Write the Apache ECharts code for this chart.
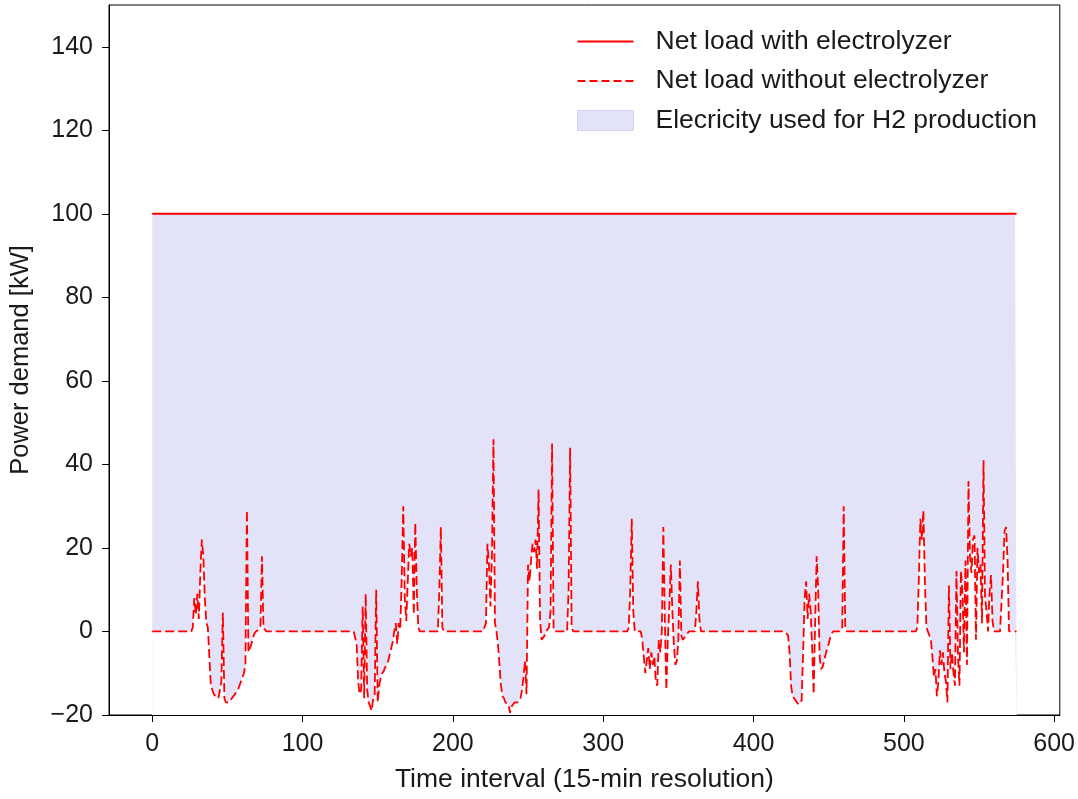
<!DOCTYPE html>
<html>
<head>
<meta charset="utf-8">
<script src="https://cdn.jsdelivr.net/npm/echarts@6/dist/echarts.min.js"></script>
<style>
html,body{margin:0;padding:0;background:#fff;}
#chart{width:1078px;height:799px;}
</style>
</head>
<body>
<div id="chart"></div>
<script>
// Net load without electrolyzer [kW], one value per 15-min interval (t = 0..575)
const netLoadWithout = [
  0,0,0,0,0,0,0,0,0,0, 0,0,0,0,0,0,0,0,0,0, 0,0,0,0,0,0,0,
  1,8,4,9,3,14,22,18,8,2,1,-6,-13,-14,-15,-15.5,-15.5,-16,-16,-12,4.5,-16,-17,-17,-17,-16.5,-16,-15.5,-15,-14.5,-14,-13,-12,-11,-10,-8,29,-5,-4,-3,-1.5,-0.5,0,0,0.5,1,18,1,1,
  0,0,0,0,0,0,0,0,0,0, 0,0,0,0,0,0,0,0,0,0, 0,0,0,0,0,0,0,0,0,0, 0,0,0,0,0,0,0,0,0,0, 0,0,0,0,0,0,0,0,0,0, 0,0,0,0,0,0,0,0,0,0,
  -3,-12,-15,-14,6,-16,9,-14,-17,-18,-19,-16,-15,10,-17,-13,-11,-10,-9.5,-8.5,-8,-7,-5.5,-4,-2.5,0,2,-3,2,0.5,13,30,8,2.5,12,21,18,20,4,26,10,1,
  0,0,0,0,0,0,0,0,0,0,0,0,0, 10,25,1,
  0,0,0,0,0,0,0,0,0,0, 0,0,0,0,0,0,0,0,0,0, 0,0,0,0,0,0,0,0,
  2,21,16,6,18,46,2,0,-3,-8,-13,-15.5,-16,-17,-17,-17.5,-19.5,-18,-17.5,-17,-17,-17,-16.5,-16,-14,-11,-7,-15,16,12,17,21,19,22,15,34,3,-2,-1.5,-1,0,0.5,1,5,45,0.5,
  0,0,0,0,0,0,0,0,0, 10,44,1,
  0,0,0,0,0,0,0,0,0,0, 0,0,0,0,0,0,0,0,0,0, 0,0,0,0,0,0,0,0,0,0, 0,0,0,0,0,0,0,
  1,10,27,5,0,0,0,0,0,-2,-6,-10,-7,-4,-9,-5,-8,-6,-12,-13,-2,-5,0,25,3,-14,-2,6,16,5,-3,-8,-7,-2,17,-1,-2,-1.5,-1,-0.5,0,0,0,0,0,5,12,3,0,
  0,0,0,0,0,0,0,0,0,0, 0,0,0,0,0,0,0,0,0,0, 0,0,0,0,0,0,0,0,0,0, 0,0,0,0,0,0,0,0,0,0, 0,0,0,0,0,0,0,0,0,0, 0,0,0,0,0,0,0,
  -1,-5,-13,-15.5,-16,-16.5,-17,-17.5,-17.5,-16.5,-5,8,12,3,9,5,-4,-15,2,18,10,-6,-9,-8.5,-7,-5.5,-4,-3,-1.5,-0.5,0,0,0,0,0,0,0.5,30,1,0,
  0,0,0,0,0,0,0,0,0,0, 0,0,0,0,0,0,0,0,0,0, 0,0,0,0,0,0,0,0,0,0, 0,0,0,0,0,0,0,0,0,0, 0,0,0,0,0,0,
  1,13,27,22,29,12,1,0,0,-2,-6,-11,-9,-15.5,-12,-4.5,-8,-5,-10,-12,-17,11,-9,-5,-10,-13,14.5,-6,-13,14.5,9,-5,17,-8,36,18,14,22,23,-2,20,14,16,2,41,8,5,0,9,13.5,2.5,0,0,0,0,0,0,14,24,25,17,0,0,0,0,0,0
];
// Net load with electrolyzer [kW] (flat level)
const netLoadWithLevel = 100;

const xTicks = [0, 100, 200, 300, 400, 500, 600];
const yTicks = [-20, 0, 20, 40, 60, 80, 100, 120, 140];

const seriesNames = [
  'Net load with electrolyzer',
  'Net load without electrolyzer',
  'Elecricity used for H2 production'
];

if (netLoadWithout.length !== 576) throw new Error('length ' + netLoadWithout.length);

const withData = netLoadWithout.map((v, i) => [i, netLoadWithLevel]);
const withoutData = netLoadWithout.map((v, i) => [i, v]);

const FONT = 'Liberation Sans, Arial, sans-serif';
const TXT = '#1a1a1a';
const FILL = '#e2e2f8';
const RED = '#ff0000';
const fmt = v => (v < 0 ? '\u2212' + Math.abs(v) : String(v));

const solidIcon = 'path://M0,0L56,0L56,0.01Z M0,9L56,9L56,11L0,11Z M0,20L56,20L56,20.01Z';
const dashIcon = 'path://M0,0L56,0L56,0.01Z M0,9L8,9L8,11L0,11Z M12,9L20,9L20,11L12,11Z M24,9L32,9L32,11L24,11Z M36,9L44,9L44,11L36,11Z M48,9L56,9L56,11L48,11Z M0,20L56,20L56,20.01Z';

const chart = echarts.init(document.getElementById('chart'), null, {renderer: 'canvas'});
chart.setOption({
  animation: false,
  backgroundColor: '#ffffff',
  grid: {left: 106, right: 13, top: 5, bottom: 84, containLabel: false,
         show: true, backgroundColor: 'transparent', borderColor: '#000', borderWidth: 1},
  legend: {
    orient: 'vertical',
    left: 577,
    top: 28,
    itemWidth: 56,
    itemHeight: 20,
    itemGap: 12.5,
    padding: 0,
    data: [
      {name: seriesNames[0], icon: solidIcon, itemStyle: {color: RED}},
      {name: seriesNames[1], icon: dashIcon, itemStyle: {color: RED}},
      {name: seriesNames[2], icon: 'rect', itemStyle: {color: FILL, borderColor: '#d2d2f4', borderWidth: 1}}
    ],
    textStyle: {fontFamily: FONT, fontSize: 26.5, color: TXT, padding: [0, 0, 0, 17]}
  },
  xAxis: {
    type: 'value',
    min: -28.75,
    max: 603.75,
    z: 10,
    name: 'Time interval (15-min resolution)',
    nameLocation: 'middle',
    nameGap: 51,
    nameTextStyle: {fontFamily: FONT, fontSize: 26.5, color: TXT},
    splitLine: {show: false},
    axisLine: {show: true, onZero: false, lineStyle: {color: '#000', width: 1}},
    axisTick: {show: true, length: 7, lineStyle: {color: '#000'}, customValues: xTicks},
    axisLabel: {fontFamily: FONT, fontSize: 25, color: TXT, margin: 17, customValues: xTicks, formatter: fmt}
  },
  yAxis: {
    type: 'value',
    min: -20,
    max: 150,
    z: 10,
    name: 'Power demand [kW]',
    nameLocation: 'middle',
    nameGap: 75,
    nameTextStyle: {fontFamily: FONT, fontSize: 25.5, color: TXT},
    splitLine: {show: false},
    axisLine: {show: true, onZero: false, lineStyle: {color: '#000', width: 1}},
    axisTick: {show: true, length: 7, lineStyle: {color: '#000'}, customValues: yTicks},
    axisLabel: {fontFamily: FONT, fontSize: 25, color: TXT, margin: 16, customValues: yTicks, formatter: fmt}
  },
  series: [
    {
      name: seriesNames[2],
      type: 'line',
      data: withData,
      showSymbol: false,
      symbol: 'none',
      z: 1,
      lineStyle: {width: 0, color: FILL},
      itemStyle: {color: FILL},
      areaStyle: {color: FILL, opacity: 1, origin: 'start'}
    },
    {
      name: 'mask',
      type: 'line',
      data: withoutData,
      showSymbol: false,
      symbol: 'none',
      z: 2,
      silent: true,
      lineStyle: {width: 0, color: '#ffffff'},
      itemStyle: {color: '#ffffff'},
      areaStyle: {color: '#ffffff', opacity: 1, origin: 'start'}
    },
    {
      name: seriesNames[1],
      type: 'line',
      data: withoutData,
      showSymbol: false,
      symbol: 'none',
      z: 4,
      lineStyle: {color: RED, width: 1.8, type: [9, 4]},
      itemStyle: {color: RED}
    },
    {
      name: seriesNames[0],
      type: 'line',
      data: withData,
      showSymbol: false,
      symbol: 'none',
      z: 5,
      lineStyle: {color: RED, width: 2},
      itemStyle: {color: RED}
    }
  ]
});
</script>
</body>
</html>
